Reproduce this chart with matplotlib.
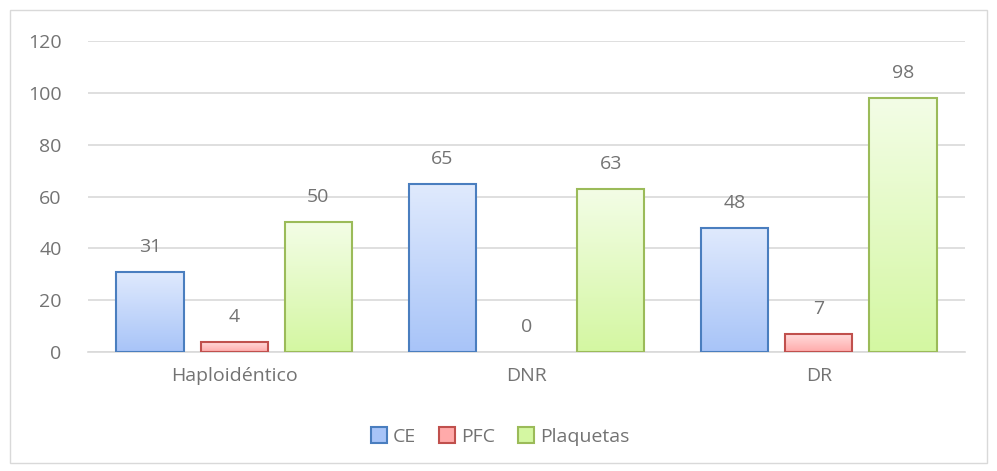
import numpy as np
import matplotlib.pyplot as plt
from matplotlib.patches import Rectangle
from matplotlib.lines import Line2D
from matplotlib.colors import LinearSegmentedColormap

categories = ["Haploidéntico", "DNR", "DR"]
series_names = ["CE", "PFC", "Plaquetas"]
ce = [31, 65, 48]
pfc = [4, 0, 7]
plaquetas = [50, 63, 98]
yticks = [0, 20, 40, 60, 80, 100, 120]

# (top colour, bottom colour, edge colour) for each series
styles = [
    ("#e0eafd", "#a8c4f8", "#4a7ebf"),
    ("#ffdede", "#ffaaaa", "#c0504d"),
    ("#f3fde6", "#d4f7a2", "#9bbb59"),
]

plt.rcParams["font.family"] = ["Open Sans", "DejaVu Sans"]
text_color = "#737373"
grid_color = "#d9d9d9"
fs = 14

fig = plt.figure(figsize=(9.97, 4.71), dpi=100)
fig.patches.append(Rectangle((10 / 997, 8 / 471), 977 / 997, 453 / 471,
                             transform=fig.transFigure, fill=False,
                             edgecolor=grid_color, lw=1))
ax = fig.add_axes([88 / 997, 1 - 352 / 471, 877 / 997, 311 / 471])

x = np.arange(len(categories))
width = 0.23
step = 0.288
grad = np.linspace(0, 1, 100)[:, None]

for i, vals in enumerate([ce, pfc, plaquetas]):
    top, bottom, edge = styles[i]
    cmap = LinearSegmentedColormap.from_list(f"g{i}", [top, bottom])
    for xc, v in zip(x + (i - 1) * step, vals):
        if v > 0:
            ax.imshow(grad, extent=[xc - width / 2, xc + width / 2, 0, v],
                      origin="upper", cmap=cmap, aspect="auto", zorder=2)
            ax.add_patch(Rectangle((xc - width / 2, 0), width, v, fill=False,
                                   edgecolor=edge, lw=1.5, zorder=3))
        ax.annotate(f"{v}", (xc, v), xytext=(0, 18),
                    textcoords="offset points", ha="center", va="center",
                    fontsize=fs, color=text_color)

ax.set_xlim(-0.5, 2.5)
ax.set_ylim(0, 120)
ax.set_yticks(yticks)
ax.set_xticks(x)
ax.set_xticklabels(categories)
ax.tick_params(length=0, labelsize=fs, colors=text_color)
ax.tick_params(axis="y", pad=19)
ax.tick_params(axis="x", pad=11)
ax.grid(axis="y", color=grid_color, lw=1.2, zorder=0)
ax.set_axisbelow(True)
for side in ["top", "right", "left"]:
    ax.spines[side].set_visible(False)
ax.spines["bottom"].set_color(grid_color)
ax.spines["bottom"].set_linewidth(1.2)

handles = [Line2D([], [], marker="s", ls="", markersize=11,
                  markerfacecolor=s[1], markeredgecolor=s[2],
                  markeredgewidth=1.5) for s in styles]
fig.legend(handles, series_names, loc="center", ncol=3,
           bbox_to_anchor=(0.5, 1 - 437 / 471), frameon=False,
           fontsize=fs, labelcolor=text_color, handletextpad=0.1,
           columnspacing=1.0, handlelength=1.2)

fig.savefig("out.png", dpi=100)
